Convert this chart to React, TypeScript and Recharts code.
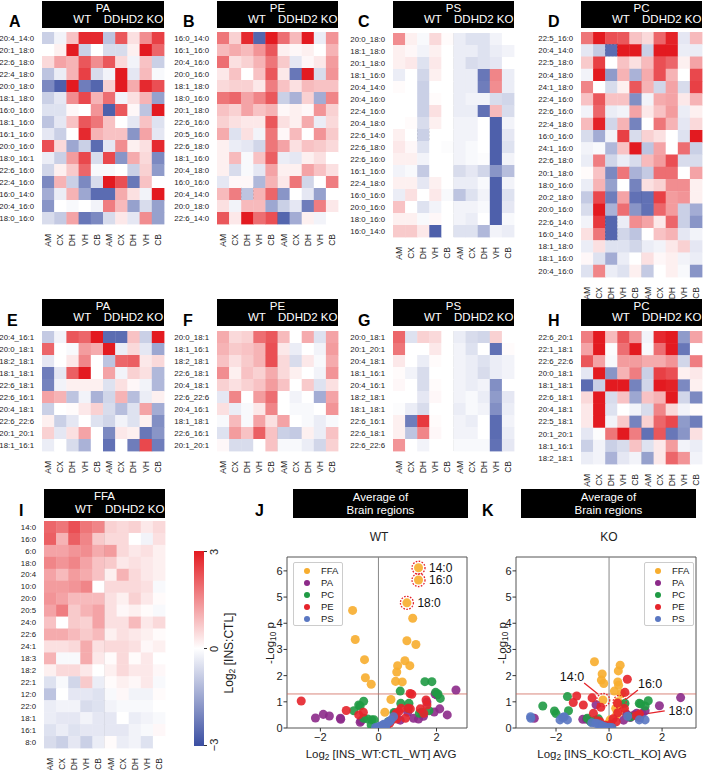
import React from 'react';
import {
  ScatterChart, Scatter, XAxis, YAxis, ZAxis, ReferenceLine, ReferenceArea, ReferenceDot,
} from 'recharts';

const FONT = '"Liberation Sans", Arial, Helvetica, sans-serif';
const COLS = ['AM', 'CX', 'DH', 'VH', 'CB', 'AM', 'CX', 'DH', 'VH', 'CB'];

// ---- heatmap data (log2 INS:CTL), columns = WT AM CX DH VH CB | KO AM CX DH VH CB ----
const ROWS_A = ['20:4_14:0', '20:1_18:0', '22:6_18:0', '22:4_18:0', '20:0_18:0', '18:1_18:0', '16:0_16:0', '18:1_16:0', '16:1_16:0', '20:0_16:0', '18:0_16:1', '22:6_16:0', '22:4_16:0', '16:0_14:0', '20:4_16:0', '18:0_16:0'];
const VALS_A = [
  [-0.8, -0.2, 0.8, 2.8, 2.8, -1, 2.2, 0.4, 1.5, 2.5],
  [0, 0.2, 3, -0.8, 0, -0.6, -0.6, 0.2, 3, 2],
  [0.5, 1.2, 1, 2.2, 1.5, 2.2, 0.5, -0.2, 0.8, -0.8],
  [-1, -0.3, 1, 2.5, -0.6, -0.2, 3, -0.4, 0.9, -0.1],
  [-2, -2.7, 3, -2.2, -2.6, 0.6, 3, 1.1, 2.8, 2.3],
  [-0.8, -0.4, 1.5, 2.4, 1, 1.9, -0.2, 0.4, 1, -1.6],
  [-0.5, -0.5, 0.1, 0, 1.4, -2.7, 2.2, 0.1, -1, 3],
  [-1, -0.4, 0.8, 2.2, 1.8, 0.8, 0, -0.4, 0.8, -0.5],
  [-0.4, -0.8, 0, 2.8, 1, 0.8, 0.8, -1.8, 1.2, -0.4],
  [2.3, 0.5, -1.5, -0.8, -2.5, -0.4, 1.5, 0.2, 0.4, 2.8],
  [-0.3, -0.8, 1.3, 2.4, -0.6, 2.4, -1.8, 1.1, 0.5, -2],
  [-0.7, 0.2, 0.7, 2, -0.1, -0.1, 0, -0.8, 0.6, -1.7],
  [-2, 1, -0.8, -2, -0.6, 3, 2.3, -2.3, 0.8, 0],
  [-1.4, -0.3, 1, -1.5, -2.5, -2.5, 1.1, 0.4, -0.2, 3],
  [-1.8, 0, -0.1, 0, -0.2, 1.7, 0.9, -1.6, -0.6, -1.6],
  [-0.6, -0.9, 1.2, -2.3, -2, -0.6, 0.3, -0.4, 1.5, -1.6],
];

const ROWS_B = ['16:0_14:0', '16:1_16:0', '20:4_16:0', '20:0_16:0', '18:1_18:0', '18:0_16:0', '20:1_18:0', '22:6_16:0', '20:5_16:0', '22:6_18:0', '18:1_16:0', '20:4_18:0', '16:0_16:0', '20:4_14:0', '20:0_18:0', '22:6_14:0'];
const VALS_B = [
  [1.8, 0.6, 2.8, -2.6, 3, 1.9, 0.9, 3, -0.3, 1.4],
  [0.9, 1.1, 0.9, 1.4, 2.2, 0.2, 0.1, 0.2, 0, 1],
  [1.9, 0.4, 0.6, 1, 1.8, 0.7, -0.4, 0.1, 0.3, 1.3],
  [0.3, 0.8, 0, 0.8, 2.2, 0.3, -2.3, 3, -0.6, 1.4],
  [0.5, 0.6, 0.6, 0.3, 1.7, 0.8, 0.4, 0.9, 0.8, 0.8],
  [1.8, 2, 1.2, 1.6, 2.2, -0.8, -1.3, 0.6, -1.4, 1.6],
  [0.8, 0.6, 1.2, 0.8, 1, 0.1, 0.2, 0.1, 1.4, 0.6],
  [0.6, 0.4, 0.3, 0.3, 2.2, 0.4, 0.2, 1.1, -0.3, 0.5],
  [1.1, -0.5, 0.4, -0.2, 1.8, 0.1, 0.9, 0, 1.4, 0.7],
  [0.2, -0.3, -0.4, -0.7, 1.8, 1.2, 0.4, 0.8, 0.7, 0.5],
  [0.2, 0.9, -0.1, 0.8, 2.1, -0.3, -0.4, 0.2, 0.4, 0],
  [0.2, -0.6, -0.1, -0.4, 1.2, 0.2, 0.2, 1.2, 0.8, 0.4],
  [-0.4, 0.1, 0.1, -1.2, 1, 0.3, 1.8, -0.7, 0, 1.7],
  [0.9, 1.7, -1, 1, 2, -1.8, 0, -0.4, -1.6, 0],
  [0.4, -0.2, 0.9, 0.9, -1.5, -0.8, -0.4, -2.2, 1.7, 0.3],
  [2.2, 0.3, 3, 1.9, 2.3, -2.6, -1.4, 0.2, -0.2, 0],
];

const ROWS_C = ['20:0_18:0', '18:1_18:0', '20:1_18:0', '18:1_16:0', '20:4_14:0', '20:4_16:0', '22:4_16:0', '20:4_18:0', '22:6_14:0', '22:6_18:0', '22:6_16:0', '16:1_16:0', '22:4_18:0', '16:0_16:0', '20:0_16:0', '18:0_16:0', '16:0_14:0'];
const VALS_C = [
  [1.5, 0.2, -0.1, 0.5, 0.05, -0.3, -0.5, -0.5, -0.2, 0],
  [0.2, 0.1, -0.2, 0.2, 0, -0.3, -0.3, -0.5, -0.3, -0.2],
  [0.2, 0.3, -0.5, 0.3, 0, -0.3, -0.6, -0.5, -0.4, 0],
  [-0.3, 0, -0.7, 0.2, 0, -0.3, -0.3, -2.3, 1.6, -0.3],
  [0.05, 0, -0.8, 0, 0, -0.3, -0.3, -2.2, 1.5, -0.3],
  [0, 0, -0.8, 0.05, 0, -0.3, -0.2, -0.2, -0.6, -0.7],
  [0, 0, -0.8, 0.4, 0, -0.3, -0.3, -2.4, 0.9, -0.6],
  [0, 0.05, -0.6, 0.2, 0, -0.2, -0.2, 0, -2.7, -0.2],
  [0.2, 0, -0.8, 0, 0, -0.2, -0.2, 0, -2.7, -0.4],
  [0.3, 0.1, -0.5, 0, -0.05, -0.2, -0.1, 0, -2.7, -0.5],
  [0.2, 0.2, -0.2, 0, 0, -0.2, -0.1, -0.05, -2.7, -0.2],
  [-0.2, -0.1, -0.9, 0, 0, -0.6, -0.4, -0.7, -1.8, -1.1],
  [0.2, 0.2, -0.4, 0.2, 0, -0.3, -0.3, -0.1, -2.7, -0.2],
  [-0.3, 0.4, 0, 0.3, -0.1, -1, -0.5, -0.2, -2.7, -0.5],
  [0.8, 0, -0.5, -0.2, 0, -0.2, -0.2, -0.1, -2.7, -0.4],
  [0.2, 0.2, -0.1, 0.1, 0, -0.2, -0.3, 0, -2.7, -0.1],
  [0.7, 0.7, 0.3, -2.7, 0, -0.5, -0.5, -1.2, -0.2, -0.3],
];

const ROWS_D = ['22:5_16:0', '20:4_14:0', '22:5_18:0', '20:4_18:0', '24:1_18:0', '22:4_16:0', '22:6_16:0', '22:4_18:0', '16:0_16:0', '24:1_16:0', '22:6_18:0', '20:1_18:0', '18:0_16:0', '20:2_18:0', '20:0_16:0', '22:6_14:0', '16:0_14:0', '18:1_18:0', '18:1_16:0', '20:4_16:0'];
const VALS_D = [
  [1.8, 3, 2.3, 2.2, 0.8, 0.5, 2, 2.9, -0.4, 0.9],
  [-0.4, -0.9, -2.5, 3, 3, -0.8, 3, 3, -0.3, -0.3],
  [0.7, 2.5, 0, 0.8, 0.4, 0.9, 2.3, 2, 0.2, 1.2],
  [-0.2, 3, -1.7, 1, -1.3, 1.1, 2.3, 1, 0, 2.4],
  [1.6, 0, -0.6, 0.2, 2.2, 1, -0.7, 1.2, -0.6, 2.5],
  [0.8, 2.2, 0.8, 0.8, -1.9, -0.2, 1.1, 1.2, 0.3, 1],
  [-0.2, 2, -0.3, -0.2, 1.2, 0.3, 0.8, 1.3, -0.3, 0.2],
  [0.9, 2.9, -0.7, 1, -2.1, 0, 1.8, 1, -0.4, 0.5],
  [-0.6, -1.4, -0.2, 2.5, -0.6, 0.6, 0.4, 0, -0.5, 3],
  [-0.2, -0.1, -1.2, 0.8, 3, -1, 1.2, 0, 1.9, -0.8],
  [-0.3, 1.7, -0.7, -0.3, -0.6, 0.9, 1.3, 2.3, -0.6, -0.6],
  [0.05, 0.8, -2, 1.8, -1.3, -0.9, 1.9, 1.9, 0, 1.2],
  [-0.3, 1, -1.6, 0, -2.1, 0.4, 0.6, 1.5, 1.5, 0.2],
  [-0.9, 2.4, -2.2, 1.2, -2.4, -2.4, 2.5, 1.3, 1.4, 0.2],
  [-0.6, 3, -1.3, 1.9, -1.8, -2.4, 2, 1.3, -0.8, -1.4],
  [-0.2, 2.6, -2.6, -0.3, 1.5, 1.2, 0.3, 2, -0.8, -1.8],
  [0.4, 1.8, -2.6, -0.7, -1, 0, 0.8, 1, -0.4, -0.2],
  [-0.3, 0.4, -0.5, -0.5, -0.7, -0.3, -0.2, 0.3, 0.6, -0.4],
  [0.1, -0.5, -1.4, -0.3, 0, 0.4, 0.1, 0.2, -0.2, -0.3],
  [-0.5, 1.6, -0.3, -0.5, 0.2, -0.9, 0, 0.2, -0.1, -1.8],
];

const ROWS_E = ['20:4_16:1', '20:0_18:1', '18:2_18:1', '18:1_18:1', '22:6_18:1', '22:6_16:1', '20:4_18:1', '22:6_22:6', '20:1_20:1', '18:1_16:1'];
const VALS_E = [
  [-0.9, -0.2, 2.2, 2, 3, -2.5, -2.5, 0.8, -0.8, 3],
  [2, 0, -0.1, 1.3, 1.1, 3, -0.3, 0.5, -0.4, -1.5],
  [-0.4, 0, 0.3, 1.6, 0, -1, 2, 2.1, 0.3, 0.5],
  [-2.2, -0.4, 2.1, 3, 0, 1.2, -0.2, 0.6, 0.4, -1.2],
  [-2.1, -0.2, 0.2, 0.2, 0.2, -0.5, 0.4, 0.1, -0.2, -1.2],
  [1.2, 1, -1, -0.2, -1.3, -0.7, 1, -1.1, -0.3, 0.2],
  [-0.8, 0, 0.05, 0.3, 0.6, -0.6, -1.1, -0.5, 1.2, -1.4],
  [0.2, -0.8, -0.4, 0, -0.5, -0.7, -0.2, -0.5, 0.2, -1.9],
  [0.6, -0.4, 0.4, 1.2, 0, -2, 0.3, 0.2, -2.3, -1.8],
  [-0.3, 0, -0.6, -1.3, 0, -2.4, 0, -2.2, 2.4, -2.2],
];

const ROWS_F = ['20:0_18:1', '18:1_16:1', '18:2_18:1', '22:6_18:1', '20:4_18:1', '22:6_22:6', '20:4_16:1', '18:1_18:1', '22:6_16:1', '20:1_20:1'];
const VALS_F = [
  [1.1, 0.5, 0.6, 1.9, 2.2, 0.9, 0, 1.1, -0.5, 1.2],
  [1, 0.7, 0.8, 1, 2.3, 0.3, -0.3, 0, -0.2, 1.3],
  [0.8, 0.4, 0.7, 1, 2.3, 0.5, -0.6, 0.3, -0.1, 1.1],
  [1.5, 0.2, 0.8, 0.6, 1.1, 0.5, 0.2, 0, -0.2, 1.4],
  [0.6, 0.4, 0.6, 0.8, 1.3, 0.8, 0, 0.7, -0.5, 0.4],
  [-0.4, 1.6, 0, 1.3, 1.9, 0, -0.2, 0, -1.4, 1.2],
  [0.4, -0.3, -0.1, 0.3, 1.6, 0, -0.1, -0.1, 0, 1.4],
  [-0.1, 0.9, -0.1, 1.2, 0.4, 1.2, 0, -0.1, -0.3, -0.1],
  [-0.5, 1.3, 0.8, 2.1, 0.8, -0.8, -0.9, 0.2, -0.3, 0.8],
  [0.1, -0.6, -0.6, 0, 0.8, -0.1, -0.1, -0.3, -0.7, 0.6],
];

const ROWS_G = ['20:0_18:1', '20:1_20:1', '20:4_18:1', '18:1_16:1', '20:4_16:1', '18:2_18:1', '18:1_18:1', '22:6_16:1', '22:6_18:1', '22:6_22:6'];
const VALS_G = [
  [2, -0.5, 0.6, 0.5, 0, -0.3, -0.6, -0.7, 0.6, 0],
  [1.8, 0, 0, 0.3, 0, -0.2, -0.5, 0, -2.4, 0.05],
  [0.3, 0, -0.3, 0.05, 0, -0.2, -0.3, -0.5, -0.3, -0.2],
  [0.05, -0.2, -0.6, 0, 0, -0.2, -0.3, -0.6, -0.3, -0.2],
  [0.1, 0, -0.6, 0.05, 0, -0.2, -0.3, -0.2, -1.9, 0],
  [0, 0, -0.4, 0.1, 0, -0.2, -0.1, -0.3, -1.7, -0.4],
  [-0.05, -0.3, -0.6, 0, 0, -0.3, -0.1, -0.2, -1.9, -0.3],
  [0.2, -2.2, 2.6, 0.05, 0, -0.2, -0.3, 0, -2.5, -0.2],
  [0.2, -1, 1.6, 0.1, 0, -0.2, -0.2, 0, -2.5, -0.3],
  [1.4, 0, -0.2, 0, 0, -0.1, -0.1, -0.1, -2.4, -0.4],
];

const ROWS_H = ['22:6_20:1', '22:1_18:1', '22:6_22:6', '20:0_18:1', '18:1_18:1', '22:6_18:1', '20:4_18:1', '22:5_18:1', '20:1_20:1', '18:1_16:1', '18:2_18:1'];
const VALS_H = [
  [1.7, 3, 0.9, 2.2, 1.4, -0.2, 2.8, 3, -1.7, 1.2],
  [1.2, 3, -0.05, 1.9, 3, -0.1, 1.9, 3, -2.3, 0],
  [2.2, 1.2, -0.1, 1.3, 1.3, 1.1, 1.1, 1.4, -0.7, 1.7],
  [-0.4, 3, -1.8, 1, 1.7, -0.8, 2.5, 2.3, 0.2, 0.3],
  [-2.5, -0.8, 3, 3, -2.1, -0.7, 3, 2.9, -2, 0.2],
  [0.5, 3, -0.6, 0.8, -1.5, 0.8, 1, 3, -0.7, -2],
  [0.3, 3, -0.5, 0, -0.2, -0.6, 1.6, 0.5, -0.2, 0.05],
  [0.3, 3, -0.2, 0.7, -2.1, 0.6, 2, 2.4, -1.7, -2.2],
  [-0.4, -0.05, 1.8, 3, 1.7, -2.4, 2.2, -2.3, -1.8, 0.4],
  [-0.8, -0.2, -0.8, -0.6, 0.8, -0.5, 0.3, 1.3, -0.2, -0.3],
  [-0.3, -0.2, -1.3, -0.4, -0.2, -1.6, 0.3, 2, 1.4, -0.2],
];

const ROWS_I = ['14:0', '16:0', '6:0', '18:0', '20:4', '10:0', '20:0', '20:5', '24:0', '22:6', '24:1', '18:3', '18:2', '22:1', '12:0', '22:0', '18:1', '16:1', '8:0'];
const VALS_I = [
  [2, 1.8, 2.3, 1.8, 1.6, 0.6, 0.5, 0.6, 0.3, 0.5],
  [2.1, 1, 2.1, 1.6, 0.7, 0.5, 0.5, 0, -0.2, 0.4],
  [1.2, 1.2, 1.4, 1.5, 1.1, 1.3, 0.5, 0.3, 0.4, 0.2],
  [1.6, 1.4, 1.6, 1.2, 0.8, 0.7, 0.3, 0.4, 0.3, 0.2],
  [1.2, 0.9, 1.3, 1.1, 0.8, 0.2, 1, 0.5, 0.3, 0.2],
  [1.3, 1.3, 1.4, 1.6, 0, 0.5, 0.5, 0.5, 0.4, -0.1],
  [1.4, 1.2, 0.9, 0.9, 0.9, 0.4, 0.2, 0.6, 0.3, 0.05],
  [1.2, 1.7, 0.7, 1, 1.2, 0.4, 0.1, 0.2, 0.05, -0.1],
  [0.8, 0, 0.7, 0.6, 1.2, 0.4, 0.4, 0.9, 0.3, 0.5],
  [1.1, 1.1, 0.9, 0.7, 0.9, 0.2, 0.4, 0.3, 0.2, 0.05],
  [0.4, 0.4, 0.5, 1.1, 0.4, 0.5, 0.5, 0.4, 0.1, 0.2],
  [1, -0.1, -0.1, 1.1, 0.3, 0.05, 0.5, 0.05, 0.3, 0],
  [0.2, 0.5, 0.5, 0.3, 0, 0.2, 0.5, 0.3, 0.3, 0.1],
  [-0.5, -0.1, -0.7, 0.7, -0.3, 0.05, 0.2, 0.1, 0.3, -0.1],
  [-1, 0, -0.4, -0.4, -0.5, -0.1, 0.1, -0.2, -0.2, 0.05],
  [-0.3, -0.2, -0.2, -0.6, -0.5, -0.2, -0.1, -0.1, -0.1, 0],
  [-0.3, -0.4, -0.4, -0.2, -0.4, -0.4, 0, -0.3, -0.2, -0.1],
  [-0.5, -0.3, -0.5, -0.4, -0.4, -0.4, -0.4, -0.2, -0.1, 0.1],
  [-0.6, -0.8, -0.4, -0.8, -0.3, 0.05, -0.3, -0.2, -0.5, 0],
];

// ---- volcano data: log2 fold change (x) and -log10 p (y) ----
const J_FFA_X = [1.38, 1.38, 0.98, -0.89, -0.8, 1.18, 0.98, 1.29, -0.48, -0.45, -0.25, 0.66, 0.91, 1.08, 0.63, 0.59, 0.82, 0.43, 0.22];
const J_FFA_Y = [6.12, 5.65, 4.78, 4.49, 3.38, 4.19, 3.33, 3.19, 2.61, 1.92, 1.67, 2.38, 2.57, 2.38, 2.14, 1.78, 1.76, 1.09, 0.6];
const J_PA_X = [2.67, 2.02, 1.95, 1.67, 2.11, 2.37, 1.92, 1.21, 1.38, 1.01, -0.6, -0.63, -1.9, -1.69, -1.31, -1.3, -2.17, 0.55, 0.75, 1.55];
const J_PA_Y = [1.45, 1.26, 1.3, 0.99, 0.73, 0.5, 0.61, 0.37, 0.34, 0.6, 0.27, 0.22, 0.52, 0.46, 0.37, 0.33, 0.38, 0.55, 0.3, 0.45];
const J_PC_X = [1.6, 1.84, 0.75, 1.97, 2.13, -0.51, -0.68, -0.63, -0.85, -0.51, -0.37, -0.23, -0.15, -0.25, 0.77, 1.05, 1.03, 1.41, 1.49, 1.74, 0.54, 2.05, 0.35];
const J_PC_Y = [1.77, 1.77, 1.41, 1.36, 1.13, 1.02, 0.88, 0.84, 0.66, 0.37, 0.34, 0.31, 0.31, 0.11, 0.94, 0.94, 0.75, 0.56, 0.6, 0.66, 0.59, 1.3, 0.25];
const J_PE_X = [1.09, 1.15, 1.02, 1.1, 1.44, 1.64, 1.67, 1.56, 0.93, 0.61, 0.63, 0.44, 0.78, -0.68, -0.52, -1.11, 0.39, -2.66, 0.3, 0.55, 0.2, 0.7];
const J_PE_Y = [1.32, 1.29, 0.75, 0.73, 0.73, 1.07, 0.88, 0.56, 0.37, 0.56, 0.34, 0.28, 0.75, 0.5, 0.6, 0.67, 0.19, 1.03, 0.12, 0.45, 0.08, 0.62];
const J_PS_X = [-0.1, 0, 0.08, 0.15, 0.22, 0.28, 0.33, 0.42, 0.52, 0.05, 0.12, 0.25, -0.05, 0.18, 0.38];
const J_PS_Y = [0.02, 0.05, 0.08, 0.1, 0.12, 0.16, 0.22, 0.3, 0.43, 0.01, 0.03, 0.06, 0, 0.14, 0.25];

const K_FFA_X = [-0.55, -0.26, -0.29, -0.2, 0.42, 0.35, 0.33, 0.36, 0.2, -0.23, 0.35, 0.29, 0.45, 0.04, 0.47, 0.85, 0.25, -0.05, 0.6];
const K_FFA_Y = [2.53, 2.06, 1.83, 1.7, 2.4, 2.18, 1.76, 1.63, 1.41, 1.07, 1, 0.52, 0.9, 0.31, 1.32, 0.45, 0.75, 0.15, 0.6];
const K_PA_X = [-2.82, 2.7, 1.9, 1.36, 1.04, 0.95, 0.8, -0.99, -0.49, 0.67, 1.15, -0.85, 0.55, 1.25];
const K_PA_Y = [0.37, 1.16, 0.85, 0.66, 0.56, 0.5, 0.4, 0.33, 0.89, 0.52, 0.4, 0.33, 0.3, 0.55];
const K_PC_X = [-2.5, -2.06, -2, -1.57, -1.53, -0.82, -0.7, 1.14, 1.19, 1.36, 1.48, 0.6, -0.52, -0.4, 0.8, 0.1];
const K_PC_Y = [0.84, 0.65, 0.55, 1.2, 0.66, 0.37, 0.25, 0.94, 0.92, 0.84, 1.04, 0.94, 0.3, 0.35, 0.42, 0.05];
const K_PE_X = [0.69, 0.6, -1.22, -1.35, -0.97, -0.64, -0.59, -0.31, 0.58, 0.33, 1.02, 1.15, -0.42, -0.34, -0.15, 0.06, 0.27, 0.32, -0.05, 0.15];
const K_PE_Y = [1.86, 1.36, 1.22, 0.97, 0.88, 1.15, 0.56, 0.79, 0.75, 0.58, 0.47, 0.53, 0.28, 0.24, 0.1, 0.14, 0.24, 0.95, 0.05, 0.35];
const K_PS_X = [-2.96, -2.95, -1.85, -1.69, -1.57, -1.75, -0.65, -0.4, -0.31, -0.15, -0.01, 1.14, 1.36, 0.7, -0.5, -0.25, 0.1];
const K_PS_Y = [0.43, 0.37, 0.31, 0.43, 0.31, 0.4, 0.2, 0.15, 0.11, 0.05, 0.03, 0.31, 0.31, 0.45, 0.18, 0.08, 0.02];

const CLASS_NAMES = ['FFA', 'PA', 'PC', 'PE', 'PS'];
const CLASS_COLORS = ['#f7ad2e', '#8c2a89', '#1f9a44', '#e5242b', '#5a77c2'];

function heatColor(v: number) {
  const t = Math.max(-1, Math.min(1, v / 3));
  const to = t >= 0 ? [227, 26, 32] : [58, 78, 162];
  const a = Math.abs(t);
  const c = [0, 1, 2].map((k) => Math.round(255 + (to[k] - 255) * a));
  return `rgb(${c[0]},${c[1]},${c[2]})`;
}

function ColTick({ x, y, payload }: any) {
  return (
    <text transform={`translate(${x},${y + 2}) rotate(-90)`} textAnchor="end" dy="0.35em" fill="#222"
      style={{ fontFamily: FONT, fontSize: 8.5 }}>
      {COLS[Math.floor(payload.value)]}
    </text>
  );
}

function RowTick({ x, y, payload, rows }: any) {
  return (
    <text x={x} y={y} textAnchor="end" dy="0.35em" fill="#222" style={{ fontFamily: FONT, fontSize: 7.8 }}>
      {rows[Math.floor(payload.value)]}
    </text>
  );
}

function Heatmap({ x, y, w, h, rows, values, boxes = [] }: any) {
  const n = rows.length;
  const cw = w / 10;
  const ch = h / n;
  const YW = 52;
  const XH = 26;
  const data: any[] = [];
  values.forEach((r: number[], i: number) => r.forEach((v, j) => data.push({ col: j + 0.5, row: i + 0.5, v })));
  return (
    <div style={{ position: 'absolute', left: x - YW, top: y }}>
      <ScatterChart width={w + YW + 2} height={h + XH} margin={{ top: 0, right: 2, bottom: 0, left: 0 }}>
        <XAxis type="number" dataKey="col" domain={[0, 10]} ticks={[0.5, 1.5, 2.5, 3.5, 4.5, 5.5, 6.5, 7.5, 8.5, 9.5]}
          interval={0} height={XH} axisLine={false} tickLine={false} tick={<ColTick />} />
        <YAxis type="number" dataKey="row" domain={[0, n]} reversed width={YW} interval={0}
          ticks={rows.map((_: any, i: number) => i + 0.5)}
          axisLine={false} tickLine={false} tickMargin={2}
          tick={(p: any) => <RowTick {...p} rows={rows} />} />
        <Scatter data={data} isAnimationActive={false}
          shape={(p: any) => (
            <rect x={p.cx - cw / 2} y={p.cy - ch / 2} width={cw + 0.4} height={ch + 0.4} fill={heatColor(p.payload.v)} />
          )} />
        <ReferenceLine x={5} stroke="#000" strokeWidth={1.6} />
        {boxes.map((b: number[], k: number) => (
          <ReferenceArea key={k} x1={b[0]} x2={b[0] + 1} y1={b[1]} y2={b[2]} fill="none" fillOpacity={0}
            stroke="#000" strokeWidth={1.5} strokeDasharray="2 1.5" />
        ))}
      </ScatterChart>
    </div>
  );
}

function Header({ x, y, w, h, title }: any) {
  return (
    <div style={{ position: 'absolute', left: x, top: y, width: w, height: h, background: '#000', color: '#fff', fontFamily: FONT, fontSize: 11.5 }}>
      <div style={{ position: 'absolute', left: 0, width: w, top: 1, textAlign: 'center' }}>{title}</div>
      <div style={{ position: 'absolute', left: w * 0.33 - 20, width: 40, top: h - 15, textAlign: 'center' }}>WT</div>
      <div style={{ position: 'absolute', left: w * 0.75 - 35, width: 70, top: h - 15, textAlign: 'center', whiteSpace: 'nowrap' }}>DDHD2 KO</div>
    </div>
  );
}

function Letter({ x, y, t }: any) {
  return <div style={{ position: 'absolute', left: x, top: y, fontFamily: FONT, fontWeight: 'bold', fontSize: 16, lineHeight: '16px' }}>{t}</div>;
}

function Txt({ x, y, children, size = 11.5, rotate = false, width = 200 }: any) {
  return (
    <div style={{
      position: 'absolute', left: x - width / 2, top: y - 8, width, textAlign: 'center', fontFamily: FONT,
      fontSize: size, lineHeight: '16px', color: '#222', whiteSpace: 'nowrap', transform: rotate ? 'rotate(-90deg)' : undefined,
    }}>{children}</div>
  );
}

const sub = { fontSize: '0.72em', verticalAlign: '-0.25em', lineHeight: 0 };

function Volcano({ plotLeft, plotRight, domainX, series, annotations }: any) {
  const YW = 16;
  const top = 557;
  const plotH = 171;
  const XH = 20;
  const fmt = (v: number) => (v < 0 ? `\u2212${-v}` : `${v}`);
  const tickStyle = { fontSize: 11, fill: '#222', style: { fontFamily: FONT } };
  return (
    <div style={{ position: 'absolute', left: plotLeft - YW, top: top - 3 }}>
      <ScatterChart width={plotRight - plotLeft + YW + 3} height={plotH + 3 + XH} margin={{ top: 3, right: 3, bottom: 0, left: 0 }}>
        <XAxis type="number" dataKey="x" domain={domainX} ticks={[-2, 0, 2]} interval={0} height={XH} axisLine={false}
          tickLine={{ stroke: '#333' }} tickSize={3.5} tickFormatter={fmt} allowDataOverflow tick={tickStyle} />
        <YAxis type="number" dataKey="y" domain={[0, 6.53]} ticks={[0, 1, 2, 3, 4, 5, 6]} interval={0} width={YW} axisLine={false}
          tickLine={{ stroke: '#333' }} tickSize={3.5} tickMargin={1} allowDataOverflow tick={tickStyle} />
        <ZAxis range={[36, 36]} />
        <ReferenceLine x={0} stroke="#888" strokeWidth={1} />
        <ReferenceLine y={1.3} stroke="#d0685c" strokeWidth={0.8} />
        {series.map((s: any, k: number) => (
          <Scatter key={k} data={s.x.map((v: number, i: number) => ({ x: v, y: s.y[i] }))} fill={CLASS_COLORS[k]}
            fillOpacity={0.9} isAnimationActive={false} />
        ))}
        <ReferenceArea x1={domainX[0]} x2={domainX[1]} y1={0} y2={6.53} fill="none" fillOpacity={0} stroke="#555" strokeWidth={1} />
        {annotations}
      </ScatterChart>
    </div>
  );
}

function LegendBox({ x, y }: any) {
  return (
    <div style={{ position: 'absolute', left: x, top: y, width: 48, height: 62, background: '#fff', border: '1px solid #ccc', borderRadius: 2, fontFamily: FONT, fontSize: 9.5 }}>
      {CLASS_NAMES.map((n, i) => (
        <div key={n} style={{ position: 'absolute', left: 0, top: 2 + i * 12, height: 12, width: 48 }}>
          <span style={{ position: 'absolute', left: 10, top: 3, width: 6, height: 6, borderRadius: 3, background: CLASS_COLORS[i] }} />
          <span style={{ position: 'absolute', left: 27, top: 0, lineHeight: '12px', color: '#222' }}>{n}</span>
        </div>
      ))}
    </div>
  );
}

const RED = '#e5242b';
const circ = (x: number, y: number, label?: string) => (
  <ReferenceDot x={x} y={y} r={6.5} fill="none" fillOpacity={0} stroke={RED} strokeWidth={1.3} strokeDasharray="1.6 1.4"
    label={label ? { value: label, position: 'right', offset: 4, fontSize: 12, fill: '#111', style: { fontFamily: FONT } } : undefined} />
);
const tag = (x: number, y: number, label: string) => (
  <ReferenceDot x={x} y={y} r={0.01} fill="none" stroke="none"
    label={{ value: label, position: 'center', fontSize: 12.5, fill: '#111', style: { fontFamily: FONT } }} />
);
const seg = (x1: number, y1: number, x2: number, y2: number) => (
  <ReferenceLine segment={[{ x: x1, y: y1 }, { x: x2, y: y2 }]} stroke={RED} strokeWidth={1.3} />
);

export default function App() {
  const J_SERIES = [
    { x: J_FFA_X, y: J_FFA_Y }, { x: J_PA_X, y: J_PA_Y }, { x: J_PC_X, y: J_PC_Y }, { x: J_PE_X, y: J_PE_Y }, { x: J_PS_X, y: J_PS_Y },
  ];
  const K_SERIES = [
    { x: K_FFA_X, y: K_FFA_Y }, { x: K_PA_X, y: K_PA_Y }, { x: K_PC_X, y: K_PC_Y }, { x: K_PE_X, y: K_PE_Y }, { x: K_PS_X, y: K_PS_Y },
  ];
  return (
    <div style={{ position: 'absolute', left: 0, top: 0, width: 705, height: 770, background: '#fff', overflow: 'hidden', fontFamily: FONT }}>
      <Header x={42} y={1} w={122} h={27} title="PA" />
      <Header x={217} y={1} w={121} h={27} title="PE" />
      <Header x={393} y={1} w={121} h={27} title="PS" />
      <Header x={581} y={1} w={121} h={27} title="PC" />
      <Header x={42} y={299} w={122} h={27} title="PA" />
      <Header x={217} y={299} w={121} h={27} title="PE" />
      <Header x={393} y={299} w={121} h={27} title="PS" />
      <Header x={581} y={299} w={121} h={27} title="PC" />
      <Header x={44} y={489} w={121} h={29} title="FFA" />

      <Letter x={9} y={14} t="A" />
      <Letter x={183} y={14} t="B" />
      <Letter x={358} y={14} t="C" />
      <Letter x={548} y={14} t="D" />
      <Letter x={7} y={313} t="E" />
      <Letter x={183} y={313} t="F" />
      <Letter x={358} y={313} t="G" />
      <Letter x={548} y={313} t="H" />
      <Letter x={19} y={503} t="I" />
      <Letter x={255} y={503} t="J" />
      <Letter x={482} y={503} t="K" />

      <Heatmap x={42} y={32} w={122} h={192} rows={ROWS_A} values={VALS_A} />
      <Heatmap x={217} y={32} w={121} h={192} rows={ROWS_B} values={VALS_B} boxes={[[2, 13, 14]]} />
      <Heatmap x={393} y={33} w={121} h={204} rows={ROWS_C} values={VALS_C} boxes={[[2, 8, 9]]} />
      <Heatmap x={581} y={32} w={121} h={245} rows={ROWS_D} values={VALS_D} boxes={[[2, 1, 2], [2, 15, 17]]} />
      <Heatmap x={42} y={331} w={122} h={120} rows={ROWS_E} values={VALS_E} />
      <Heatmap x={217} y={331} w={121} h={120} rows={ROWS_F} values={VALS_F} />
      <Heatmap x={393} y={331} w={121} h={120} rows={ROWS_G} values={VALS_G} />
      <Heatmap x={581} y={331} w={121} h={133} rows={ROWS_H} values={VALS_H} />
      <Heatmap x={44} y={521} w={121} h={227} rows={ROWS_I} values={VALS_I} />

      {/* colour bar */}
      <svg style={{ position: 'absolute', left: 190, top: 545 }} width={30} height={210}>
        <defs>
          <linearGradient id="cbar" x1="0" y1="0" x2="0" y2="1">
            <stop offset="0%" stopColor={heatColor(3)} />
            <stop offset="50%" stopColor="#ffffff" />
            <stop offset="100%" stopColor={heatColor(-3)} />
          </linearGradient>
        </defs>
        <rect x={4} y={6} width={10} height={195} fill="url(#cbar)" />
        <line x1={14} x2={17} y1={6.5} y2={6.5} stroke="#333" />
        <line x1={14} x2={17} y1={103.5} y2={103.5} stroke="#333" />
        <line x1={14} x2={17} y1={200.5} y2={200.5} stroke="#333" />
      </svg>
      <Txt x={214} y={552} size={11} rotate width={30}>3</Txt>
      <Txt x={214} y={649} size={11} rotate width={30}>0</Txt>
      <Txt x={214} y={745} size={11} rotate width={30}>{'\u22123'}</Txt>
      <Txt x={229} y={653} size={12} rotate width={140}>Log<span style={sub}>2</span> [INS:CTL]</Txt>

      {/* volcano headers */}
      <div style={{ position: 'absolute', left: 293, top: 489, width: 175, height: 29, background: '#000', color: '#fff', fontFamily: FONT, fontSize: 11.5, textAlign: 'center', lineHeight: '13px', paddingTop: 2, boxSizing: 'border-box' }}>
        Average of<br />Brain regions
      </div>
      <div style={{ position: 'absolute', left: 521, top: 489, width: 175, height: 29, background: '#000', color: '#fff', fontFamily: FONT, fontSize: 11.5, textAlign: 'center', lineHeight: '13px', paddingTop: 2, boxSizing: 'border-box' }}>
        Average of<br />Brain regions
      </div>
      <Txt x={379} y={537} size={12}>WT</Txt>
      <Txt x={609} y={537} size={12}>KO</Txt>

      <Volcano plotLeft={287} plotRight={467} domainX={[-3.15, 3.05]} series={J_SERIES}
        annotations={[
          <React.Fragment key="a">{circ(1.38, 6.12, '14:0')}</React.Fragment>,
          <React.Fragment key="b">{circ(1.38, 5.65, '16:0')}</React.Fragment>,
          <React.Fragment key="c">{circ(0.98, 4.78, '18:0')}</React.Fragment>,
        ]} />
      <Volcano plotLeft={516} plotRight={696} domainX={[-3.51, 3.28]} series={K_SERIES}
        annotations={[
          <React.Fragment key="a">{circ(-0.22, 1.07)}</React.Fragment>,
          <React.Fragment key="b">{circ(0.4, 1.0)}</React.Fragment>,
          <React.Fragment key="c">{seg(-0.94, 1.72, -0.42, 1.3)}</React.Fragment>,
          <React.Fragment key="d">{seg(1.09, 1.45, 0.62, 1.08)}</React.Fragment>,
          <React.Fragment key="e">{seg(2.1, 0.65, 0.88, 0.46)}</React.Fragment>,
          <React.Fragment key="f">{tag(-1.4, 1.95, '14:0')}</React.Fragment>,
          <React.Fragment key="g">{tag(1.55, 1.68, '16:0')}</React.Fragment>,
          <React.Fragment key="h">{tag(2.7, 0.65, '18:0')}</React.Fragment>,
        ]} />
      <LegendBox x={293} y={562} />
      <LegendBox x={644} y={562} />

      <Txt x={270} y={643} size={11.5} rotate width={80}>-Log<span style={sub}>10</span> p</Txt>
      <Txt x={502} y={643} size={11.5} rotate width={80}>-Log<span style={sub}>10</span> p</Txt>
      <Txt x={381} y={754} size={11.5} width={220}>Log<span style={sub}>2</span> [INS_WT:CTL_WT] AVG</Txt>
      <Txt x={612} y={754} size={11.5} width={220}>Log<span style={sub}>2</span> [INS_KO:CTL_KO] AVG</Txt>
    </div>
  );
}
